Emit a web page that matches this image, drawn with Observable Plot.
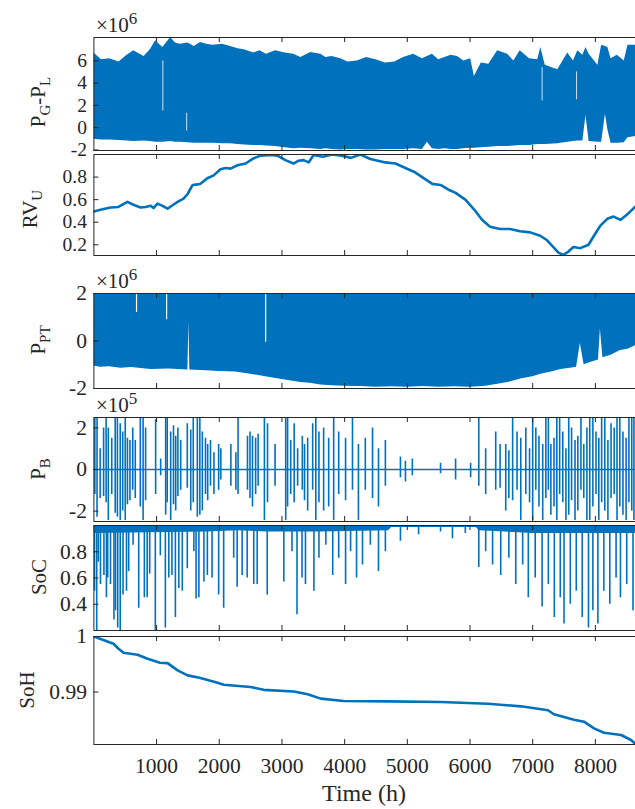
<!DOCTYPE html>
<html><head><meta charset="utf-8">
<script src="https://cdn.jsdelivr.net/npm/d3@7"></script>
<script src="https://cdn.jsdelivr.net/npm/@observablehq/plot@0.6"></script>
<style>
html,body{margin:0;padding:0;background:#fff;}
#chart{position:relative;width:635px;height:809px;overflow:hidden;font-family:"Liberation Serif","DejaVu Serif",serif;background:#fff;}
#chart svg{position:absolute;left:0;}
#chart svg text{font-family:"Liberation Serif","DejaVu Serif",serif;}
</style></head><body><div id="chart"></div>
<script>
// ---------------- data ----------------
const timeTicks = [1000, 2000, 3000, 4000, 5000, 6000, 7000, 8000];
const timeMax = 8640;

// P_G - P_L (x10^6): upper / lower envelope of the dense hourly series
const pglTime = [0,120,250,400,530,635,800,900,985,1100,1225,1300,1380,1500,1600,1700,1800,1900,2050,2180,2300,2400,2550,2650,2750,2900,3050,3190,3300,3460,3620,3700,3800,3940,4050,4200,4350,4500,4650,4800,4940,5100,5240,5320,5400,5500,5600,5700,5800,5900,6010,6070,6180,6300,6440,6600,6700,6800,6950,7080,7130,7200,7400,7560,7650,7720,7800,7850,7900,8040,8100,8160,8200,8250,8350,8460,8520,8640];
const pglUpper = [6.7,6.1,6.2,5.9,6.5,6.9,6.4,7.0,7.8,7.2,8.1,7.6,7.5,7.6,7.3,7.65,7.5,7.4,7.5,7.3,7.1,7.0,6.7,6.9,6.6,6.9,6.7,6.6,6.3,6.75,6.6,6.3,6.4,6.2,5.9,6.0,6.3,6.1,5.8,5.9,6.3,6.6,6.2,6.4,6.6,6.1,6.3,6.5,6.4,6.0,6.2,4.6,5.8,5.7,6.9,6.6,6.0,6.9,6.2,6.1,7.2,5.6,5.2,6.7,6.0,6.9,6.5,7.2,6.6,5.6,7.4,7.3,7.2,6.2,6.5,6.0,7.4,7.4];
const pglLower = [-1.05,-1.1,-1.1,-1.15,-1.2,-1.25,-1.2,-1.25,-1.3,-1.3,-1.25,-1.3,-1.3,-1.35,-1.4,-1.4,-1.4,-1.4,-1.45,-1.45,-1.5,-1.55,-1.6,-1.6,-1.65,-1.7,-1.8,-1.9,-1.85,-1.9,-1.95,-1.9,-1.95,-2.0,-1.95,-1.95,-2.0,-2.0,-1.95,-1.95,-1.95,-1.9,-1.95,-1.3,-1.9,-1.95,-1.9,-1.95,-1.95,-1.9,-1.85,-1.85,-1.8,-1.75,-1.7,-1.7,-1.65,-1.6,-1.6,-1.5,-1.5,-1.5,-1.45,-1.3,-1.25,-1.2,-1.2,1.1,-1.25,-1.3,-1.3,1.2,-0.2,-1.4,-1.4,-1.35,-0.9,-0.8];
const pglGapTime = [1100, 1480, 7150, 7700];
const pglGapTop = [6.0, 1.3, 5.4, 5.0];
const pglGapBottom = [1.5, -0.3, 2.4, 2.5];
const pglTicks = [-2, 0, 2, 4, 6];

// RV_U
const rvTime = [0,105,265,390,535,630,745,825,905,950,1015,1095,1175,1255,1335,1430,1495,1575,1655,1700,1810,1910,2020,2100,2180,2290,2420,2545,2660,2820,2930,3055,3185,3265,3345,3425,3505,3650,3800,3950,4100,4250,4410,4650,4810,4970,5130,5290,5400,5530,5650,5770,5925,6085,6195,6320,6480,6640,6800,6960,7120,7230,7330,7410,7490,7570,7650,7760,7890,8000,8080,8190,8290,8400,8510,8640];
const rvValue = [0.495,0.51,0.53,0.535,0.58,0.555,0.53,0.535,0.545,0.525,0.565,0.545,0.52,0.55,0.58,0.61,0.65,0.73,0.735,0.74,0.79,0.815,0.87,0.88,0.875,0.905,0.92,0.965,0.99,0.995,0.99,0.95,0.92,0.945,0.95,0.93,0.995,0.98,1.0,0.99,0.97,1.0,0.96,0.93,0.92,0.88,0.84,0.78,0.74,0.73,0.69,0.66,0.6,0.5,0.42,0.36,0.34,0.34,0.32,0.31,0.28,0.24,0.18,0.13,0.11,0.14,0.18,0.17,0.2,0.3,0.37,0.43,0.45,0.42,0.47,0.54];
const rvTicks = [0.2, 0.4, 0.6, 0.8];

// P_PT (x10^6): saturates at the cap, lower envelope below
const pptCap = 2;
const pptTime = [0,100,250,430,600,910,1200,1500,1515,1530,1800,2000,2260,2500,2740,3000,3150,3300,3450,3620,3800,4000,4250,4500,4750,5000,5250,5500,5750,6000,6250,6490,6650,6810,7000,7130,7300,7450,7600,7700,7760,7820,7920,8050,8080,8120,8250,8400,8520,8640];
const pptLower = [-1.05,-1.1,-1.08,-1.15,-1.12,-1.2,-1.18,-1.22,0.78,-1.22,-1.25,-1.28,-1.3,-1.4,-1.5,-1.62,-1.68,-1.75,-1.78,-1.85,-1.88,-1.9,-1.92,-1.95,-1.93,-1.95,-1.92,-1.95,-1.93,-1.95,-1.9,-1.8,-1.72,-1.6,-1.5,-1.4,-1.3,-1.2,-1.15,-1.1,-0.1,-1.0,-0.9,-0.8,0.5,-0.7,-0.6,-0.4,-0.35,-0.2];
const pptGapTime = [680, 1160, 2740];
const pptGapBottom = [1.2, 0.9, -0.05];
const pptTicks = [-2, 0, 2];

// P_B (x10^5): charge / discharge excursions
const pbTime = [15,50,100,155,195,230,285,340,375,420,460,500,535,575,620,660,740,785,825,985,1065,1145,1170,1225,1270,1305,1340,1385,1490,1545,1585,1650,1690,1730,1780,1815,1860,1915,1990,2025,2185,2265,2300,2450,2490,2530,2580,2620,2720,2770,2890,3060,3090,3140,3195,3250,3325,3360,3410,3490,3540,3590,
  3665,3745,3825,3905,4015,4125,4220,4330,4445,4540,4650,4890,4970,5080,5530,5770,6010,6140,6250,6410,6570,6680,6810,6890,7000,7100,7210,7290,7385,7480,7575,7675,7770,7865,7960,8055,8150,8250,8345,8440,8535,8615,
  6480,6620,6750,6950,7050,7160,7250,7340,7430,7530,7620,7720,7815,7910,8010,8100,8200,8300,8390,8490,8580];
const pbHigh = [2.45,2.45,1.0,2.0,2.45,2.0,1.5,2.45,2.45,2.2,1.8,2.45,1.5,1.4,2.0,1.4,2.45,2.45,2.0,2.4,0.5,2.45,2.45,1.8,2.1,1.6,2.0,1.4,2.2,1.9,2.45,2.45,2.45,1.8,1.5,1.2,1.4,0.8,1.2,1.0,1.2,0.8,2.45,1.6,1.8,1.6,1.5,1.7,2.45,2.2,1.2,2.45,2.45,1.4,2.2,1.0,1.6,1.2,1.5,2.2,2.45,1.8,
  2.0,1.5,2.45,1.8,1.5,2.45,1.2,1.5,2.0,1.0,1.4,0.6,0.4,0.5,0.3,0.5,0.3,2.45,1.0,1.8,1.2,2.45,1.5,2.0,2.45,1.6,2.45,1.2,2.45,1.8,2.45,1.4,2.45,2.0,2.45,1.5,2.45,2.2,2.45,1.8,2.45,2.45,
  1.2,0.9,1.8,1.0,2.0,1.2,2.45,1.5,2.45,1.0,2.0,1.6,1.2,2.45,1.8,2.45,1.4,2.0,2.45,1.5,2.45];
const pbLow = [-1.2,-2.3,-1.4,-1.3,-1.6,-2.45,-1.2,-2.1,-2.3,-2.45,-2.0,-2.45,-1.7,-1.5,-1.0,-1.4,-1.8,-2.45,-1.5,-1.2,-0.3,-2.2,-1.6,-2.45,-1.7,-2.0,-1.3,-1.0,-0.9,-2.0,-1.6,-2.3,-2.2,-2.0,-1.2,-1.5,-0.8,-1.2,-1.0,-0.5,-0.8,-1.0,-1.2,-1.0,-1.4,-1.8,-1.2,-0.8,-2.45,-1.6,-0.8,-2.45,-1.8,-1.2,-1.6,-0.8,-1.0,-1.5,-2.0,-1.0,-2.45,-1.6,
  -2.0,-1.8,-2.45,-1.2,-1.5,-1.0,-2.45,-1.0,-1.4,-1.8,-0.8,-0.4,-0.6,-0.3,-0.2,-0.5,-0.4,-0.8,-1.2,-1.0,-2.0,-1.5,-2.45,-1.2,-2.45,-1.8,-1.4,-2.2,-2.45,-1.6,-2.2,-2.45,-1.0,-2.45,-1.8,-2.45,-2.0,-1.4,-2.45,-2.2,-1.6,-2.45,
  -0.9,-1.4,-1.0,-1.6,-1.0,-2.45,-1.0,-1.8,-1.2,-2.45,-1.5,-2.0,-1.4,-2.45,-1.2,-1.6,-2.45,-1.2,-1.8,-2.45,-2.0];
const pbTicks = [-2, 0, 2];

// SoC: full at the top, discharge dips
const socFull = 1.0;
const socDipTime = [10,45,70,105,160,200,220,265,320,345,380,420,465,520,555,625,715,805,850,890,980,1060,1140,1195,1245,1300,1355,1410,1490,1595,1630,1675,1755,1810,1885,1990,2070,2230,2285,2365,2445,2550,2605,2765,3030,3160,3240,3320,3375,3510,3590,
  3700,3810,3905,4015,4095,4190,4285,4410,4540,4650,4890,5180,5530,5720,5925,6140,6250,6360,6490,6620,6730,6840,6930,7040,7150,7250,7345,7440,7500,7600,7695,7790,7890,7960,8040,8135,8230,8330,8400,8500,8600];
const socDipMin = [0.5,0.2,0.72,0.55,0.62,0.45,0.6,0.55,0.28,0.35,0.22,0.2,0.47,0.5,0.65,0.85,0.37,0.45,0.45,0.63,0.2,0.77,0.22,0.6,0.62,0.3,0.52,0.5,0.67,0.8,0.44,0.45,0.57,0.62,0.6,0.47,0.37,0.75,0.53,0.62,0.6,0.55,0.55,0.47,0.57,0.8,0.32,0.6,0.55,0.5,0.75,
  0.85,0.62,0.75,0.55,0.8,0.6,0.7,0.85,0.65,0.8,0.88,0.93,0.95,0.9,0.94,0.68,0.8,0.7,0.62,0.75,0.55,0.7,0.45,0.6,0.38,0.55,0.3,0.45,0.25,0.4,0.5,0.3,0.22,0.35,0.25,0.5,0.4,0.6,0.45,0.55,0.35];
const socBandTime = [0,1800,2300,2800,3600,4700,4750,6100,6150,7000,8640];
const socBandLow = [0.94,0.95,0.96,0.95,0.95,0.96,0.985,0.985,0.96,0.94,0.94];
const socTicks = [0.4, 0.6, 0.8];

// SoH
const sohTime = [0,313,393,473,696,856,1054,1175,1335,1495,1683,1974,2070,2501,2708,3187,3411,3618,3985,4688,5534,6285,6812,7244,7340,7659,7819,7978,8138,8410,8569,8640];
const sohValue = [1.0,0.99869,0.99779,0.99707,0.99671,0.996,0.99528,0.9952,0.9939,0.993,0.99258,0.99168,0.99132,0.9909,0.9904,0.9901,0.98959,0.98882,0.98839,0.98833,0.9882,0.9879,0.98743,0.98672,0.986,0.985,0.98467,0.98347,0.98268,0.98227,0.98137,0.98065];
const sohTicks = [0.99, 1];

// ---------------- drawing ----------------
const BLUE = "#0072BD", AX = "#262626";
const FONT = "'Liberation Serif', 'DejaVu Serif', serif";
const W = 635, ML = 93.4, MR = 0;
const chart = document.getElementById("chart");

function panel({top, h, domain, yTicks, marks, showX = false, fs = 21.5}) {
  const mt = 25, mb = showX ? 40 : 25;
  const ky = (domain[1] - domain[0]) / h;
  const kx = timeMax / (W - ML - MR);
  const tl = 5;
  const svg = Plot.plot({
    width: W, height: h + mt + mb,
    marginLeft: ML, marginRight: MR, marginTop: mt, marginBottom: mb,
    style: {background: "none", fontFamily: FONT, fontSize: fs + "px", color: AX, overflow: "visible"},
    x: {domain: [0, timeMax], axis: showX ? undefined : null},
    y: {domain},
    marks: [
      ...marks,
      Plot.ruleX(timeTicks, {x: d => d, y1: domain[0], y2: domain[0] + tl * ky, stroke: AX}),
      Plot.ruleX(timeTicks, {x: d => d, y1: domain[1] - tl * ky, y2: domain[1], stroke: AX}),
      Plot.ruleY(yTicks, {y: d => d, x1: 0, x2: tl * kx, stroke: AX}),
      Plot.axisY(yTicks, {tickSize: 0, tickPadding: 7, tickFormat: d => String(d), label: null}),
      showX ? Plot.axisX(timeTicks, {tickSize: 0, tickPadding: 13, tickFormat: d => String(d), label: null}) : null,
      Plot.frame({stroke: AX, strokeWidth: 1})
    ]
  });
  svg.style.top = (top - mt) + "px";
  chart.appendChild(svg);
}

// 1: P_G - P_L
panel({top: 37, h: 113, domain: [-2.05, 8.1], yTicks: pglTicks, fs: 19.5, marks: [
  Plot.areaY(pglTime, {x: pglTime, y1: pglLower, y2: pglUpper, fill: BLUE, clip: true}),
  Plot.ruleX(pglGapTime, {x: pglGapTime, y1: pglGapBottom, y2: pglGapTop, stroke: "white", strokeWidth: 1, strokeOpacity: 0.8, clip: true})
]});
// 2: RV_U
panel({top: 154, h: 101, domain: [0.105, 1.0], yTicks: rvTicks, fs: 19.5, marks: [
  Plot.line(rvValue, {x: rvTime, y: rvValue, stroke: BLUE, strokeWidth: 2.6, clip: true})
]});
// 3: P_PT
panel({top: 293, h: 95, domain: [-2.0, 2.0], yTicks: pptTicks, marks: [
  Plot.areaY(pptTime, {x: pptTime, y1: pptLower, y2: pptCap, fill: BLUE, clip: true}),
  Plot.ruleX(pptGapTime, {x: pptGapTime, y1: pptGapBottom, y2: pptCap, stroke: "white", strokeWidth: 1.2, clip: true})
]});
// 4: P_B
panel({top: 417, h: 104, domain: [-2.5, 2.5], yTicks: pbTicks, marks: [
  Plot.ruleY([0], {stroke: BLUE, strokeWidth: 1.5}),
  Plot.ruleX(pbTime, {x: pbTime, y1: pbLow, y2: pbHigh, stroke: BLUE, strokeWidth: 1.6, clip: true})
]});
// 5: SoC
panel({top: 525, h: 105, domain: [0.2, 1.0], yTicks: socTicks, marks: [
  Plot.areaY(socBandTime, {x: socBandTime, y1: socBandLow, y2: socFull, fill: BLUE, clip: true}),
  Plot.ruleX(socDipTime, {x: socDipTime, y1: socDipMin, y2: socFull, stroke: BLUE, strokeWidth: 1.6, clip: true}),
  Plot.ruleY([socFull], {stroke: BLUE, strokeWidth: 3, clip: true})
]});
// 6: SoH
panel({top: 636, h: 108, domain: [0.98056, 1.0], yTicks: sohTicks, showX: true, marks: [
  Plot.line(sohValue, {x: sohTime, y: sohValue, stroke: BLUE, strokeWidth: 2.6, clip: true})
]});

// ---------------- text overlay ----------------
const ov = d3.select(chart).append("svg").attr("width", W).attr("height", 809)
  .style("top", "0px").style("pointer-events", "none")
  .style("font-family", FONT).attr("fill", AX);

function ylabel(parts, x, y) {
  const t = ov.append("text").attr("transform", `translate(${x},${y}) rotate(-90)`)
    .attr("text-anchor", "middle").attr("font-size", 21);
  let sub = false;
  for (const [s, isSub] of parts) {
    const ts = t.append("tspan").text(s);
    if (isSub) ts.attr("font-size", 15);
    if (isSub && !sub) ts.attr("dy", 5);
    if (!isSub && sub) ts.attr("dy", -5);
    sub = isSub;
  }
}
ylabel([["P", false], ["G", true], ["-P", false], ["L", true]], 45, 102);
ylabel([["RV", false], ["U", true]], 37, 209);
ylabel([["P", false], ["PT", true]], 45, 340);
ylabel([["P", false], ["B", true]], 45, 469);
ylabel([["SoC", false]], 46, 577);
ylabel([["SoH", false]], 34, 690);

function exponent(e, y) {
  const t = ov.append("text").attr("x", 96).attr("y", y).attr("font-size", 21);
  t.append("tspan").text("×10");
  t.append("tspan").text(e).attr("font-size", 17).attr("dy", -8);
}
exponent("6", 32);
exponent("6", 288);
exponent("5", 412);

ov.append("text").attr("x", 364).attr("y", 801).attr("text-anchor", "middle")
  .attr("font-size", 24).text("Time (h)");
</script></body></html>
